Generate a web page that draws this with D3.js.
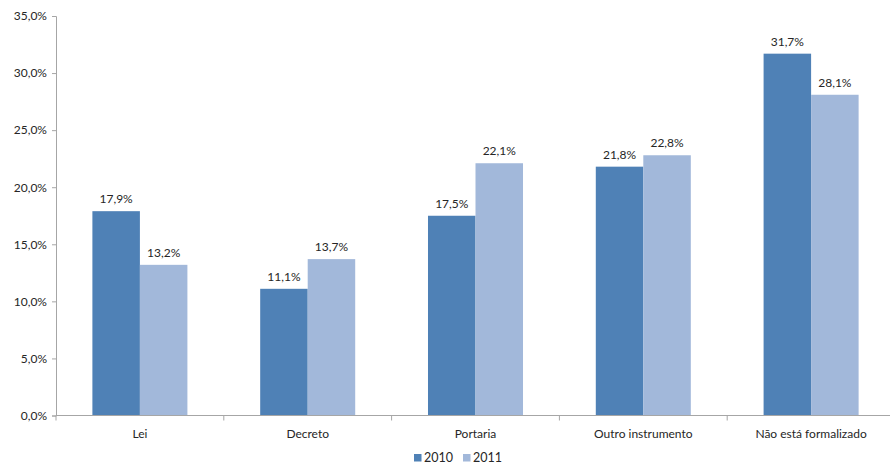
<!DOCTYPE html>
<html><head><meta charset="utf-8">
<script src="https://cdn.jsdelivr.net/npm/d3@7"></script>
<style>body{margin:0;background:#fff}svg{display:block}text{font-family:Lato,"Open Sans",sans-serif;fill:#262626}</style>
</head><body><svg id="c" width="890" height="465"></svg>
<script>
const categories = ["Lei","Decreto","Portaria","Outro instrumento","Não está formalizado"];
const series = ["2010","2011"];
const values2010 = [17.9, 11.1, 17.5, 21.8, 31.7];
const values2011 = [13.2, 13.7, 22.1, 22.8, 28.1];
const yTicks = [0,5,10,15,20,25,30,35];
const colors = ["#4F81B6","#A2B8DA"];

const svg = d3.select("#c");
const fmt = v => d3.format(".1f")(v).replace(".", ",") + "%";
const x = d3.scaleBand().domain(categories).range([56, 895]);
const y = d3.scaleLinear().domain([0,35]).range([415.5, 16]);
const inner = d3.scaleBand().domain(series).range([0, x.bandwidth()]).paddingOuter(0.766).paddingInner(0);
const data = [values2010, values2011];

// y axis
const ya = svg.append("g").attr("transform","translate(56,0)")
  .call(d3.axisLeft(y).tickValues(yTicks).tickSize(4).tickFormat(fmt));
ya.select(".domain").attr("stroke","#A6A6A6");
ya.selectAll(".tick line").attr("stroke","#A6A6A6");
ya.selectAll(".tick text").attr("font-size",12).attr("x",-9).attr("fill","#262626");

// bars
series.forEach((s,i) => {
  svg.append("g").selectAll("rect").data(categories).join("rect")
    .attr("x", c => x(c) + inner(s))
    .attr("width", inner.bandwidth())
    .attr("y", (c,j) => y(data[i][j]))
    .attr("height", (c,j) => y(0) - y(data[i][j]))
    .attr("fill", colors[i]);
  svg.append("g").selectAll("text").data(categories).join("text")
    .attr("x", c => x(c) + inner(s) + inner.bandwidth()/2)
    .attr("y", (c,j) => y(data[i][j]) - 8)
    .attr("text-anchor","middle").attr("font-size",12)
    .text((c,j) => fmt(data[i][j]));
});

// x axis
const xa = svg.append("g").attr("transform","translate(0,415.5)");
xa.append("line").attr("x1",56).attr("x2",895).attr("stroke","#A6A6A6");
const bounds = categories.map(c => x(c)).concat([x.range()[1]]);
xa.selectAll("line.t").data(bounds).join("line").attr("class","t")
  .attr("x1",d=>d).attr("x2",d=>d).attr("y1",0).attr("y2",5).attr("stroke","#A6A6A6");
xa.selectAll("text").data(categories).join("text")
  .attr("x", c => x(c) + x.bandwidth()/2).attr("y", 22)
  .attr("text-anchor","middle").attr("font-size",12).text(c => c);

// legend
const lg = svg.append("g").attr("transform","translate(414,454)");
series.forEach((s,i) => {
  const g = lg.append("g").attr("transform",`translate(${i*49},0)`);
  g.append("rect").attr("width",7.5).attr("height",7.5).attr("fill",colors[i]);
  g.append("text").attr("x",10).attr("y",8).attr("font-size",12.5).text(s);
});
</script></body></html>
